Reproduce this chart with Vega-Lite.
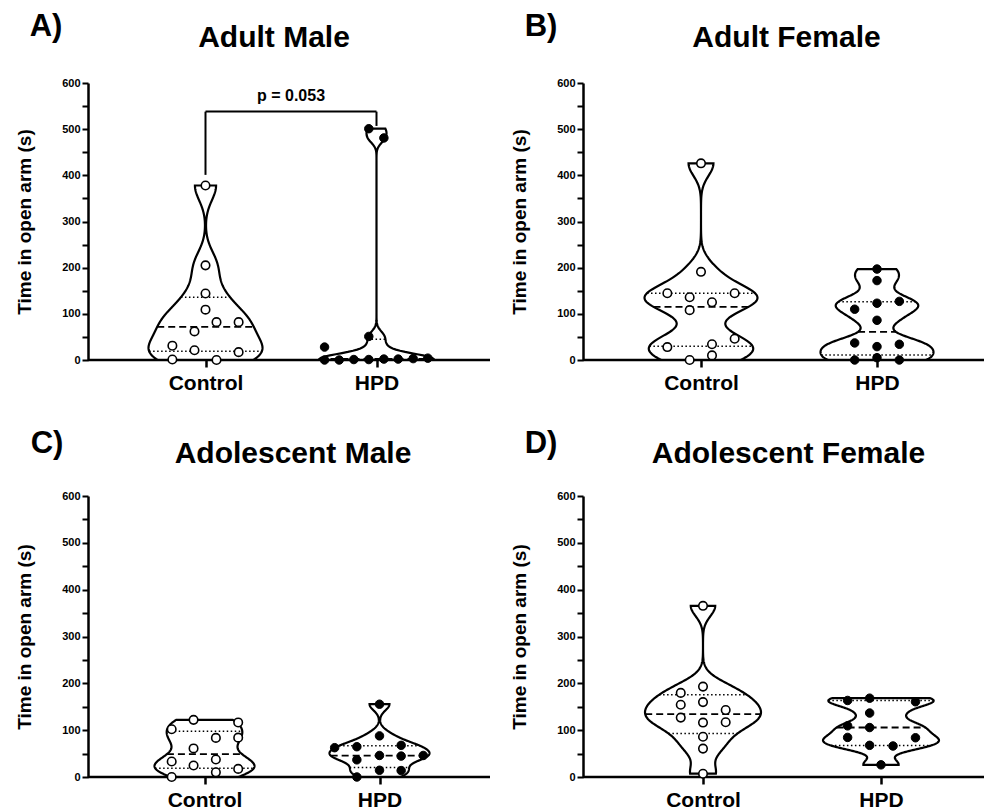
{
  "$schema": "https://vega.github.io/schema/vega-lite/v6.json",
  "padding": {"left": 15, "top": 11, "right": 0, "bottom": 0},
  "background": "white",
  "config": {
    "font": "Liberation Sans",
    "view": {"stroke": null},
    "axis": {"domainColor": "black", "tickColor": "black", "labelColor": "black", "titleColor": "black", "labelFontWeight": "bold", "titleFontWeight": "bold", "grid": false},
    "title": {"color": "black", "fontWeight": "bold", "font": "Liberation Sans"}
  },
  "datasets": {
    "points": [
      {"panel": "A", "group": "Control", "value": 378, "jitter": 0},
      {"panel": "A", "group": "Control", "value": 205, "jitter": 0},
      {"panel": "A", "group": "Control", "value": 144, "jitter": 0},
      {"panel": "A", "group": "Control", "value": 109, "jitter": 0},
      {"panel": "A", "group": "Control", "value": 82, "jitter": 1.03},
      {"panel": "A", "group": "Control", "value": 82, "jitter": 3.1},
      {"panel": "A", "group": "Control", "value": 62, "jitter": -1.03},
      {"panel": "A", "group": "Control", "value": 31, "jitter": -3.1},
      {"panel": "A", "group": "Control", "value": 21, "jitter": -1.03},
      {"panel": "A", "group": "Control", "value": 17, "jitter": 3.1},
      {"panel": "A", "group": "Control", "value": 1, "jitter": -3.1},
      {"panel": "A", "group": "Control", "value": 0, "jitter": 1.03},
      {"panel": "A", "group": "HPD", "value": 501, "jitter": -0.72},
      {"panel": "A", "group": "HPD", "value": 481, "jitter": 0.69},
      {"panel": "A", "group": "HPD", "value": 51, "jitter": -0.72},
      {"panel": "A", "group": "HPD", "value": 28, "jitter": -4.86},
      {"panel": "A", "group": "HPD", "value": 0, "jitter": -4.86},
      {"panel": "A", "group": "HPD", "value": 0, "jitter": -3.49},
      {"panel": "A", "group": "HPD", "value": 1, "jitter": -2.12},
      {"panel": "A", "group": "HPD", "value": 1, "jitter": -0.72},
      {"panel": "A", "group": "HPD", "value": 2, "jitter": 0.69},
      {"panel": "A", "group": "HPD", "value": 2, "jitter": 2.03},
      {"panel": "A", "group": "HPD", "value": 3, "jitter": 3.43},
      {"panel": "A", "group": "HPD", "value": 4, "jitter": 4.8},
      {"panel": "B", "group": "Control", "value": 426, "jitter": 0},
      {"panel": "B", "group": "Control", "value": 191, "jitter": 0},
      {"panel": "B", "group": "Control", "value": 144.5, "jitter": -3.06},
      {"panel": "B", "group": "Control", "value": 144.5, "jitter": 3.06},
      {"panel": "B", "group": "Control", "value": 136, "jitter": -1.03},
      {"panel": "B", "group": "Control", "value": 125, "jitter": 1.0},
      {"panel": "B", "group": "Control", "value": 108, "jitter": -1.03},
      {"panel": "B", "group": "Control", "value": 46, "jitter": 3.06},
      {"panel": "B", "group": "Control", "value": 34, "jitter": 1.0},
      {"panel": "B", "group": "Control", "value": 28, "jitter": -3.06},
      {"panel": "B", "group": "Control", "value": 10, "jitter": 1.0},
      {"panel": "B", "group": "Control", "value": 0, "jitter": -1.03},
      {"panel": "B", "group": "HPD", "value": 197, "jitter": 0},
      {"panel": "B", "group": "HPD", "value": 172, "jitter": 0},
      {"panel": "B", "group": "HPD", "value": 123, "jitter": 0},
      {"panel": "B", "group": "HPD", "value": 127, "jitter": 2.03},
      {"panel": "B", "group": "HPD", "value": 110, "jitter": -2.03},
      {"panel": "B", "group": "HPD", "value": 86, "jitter": 0},
      {"panel": "B", "group": "HPD", "value": 37, "jitter": -2.03},
      {"panel": "B", "group": "HPD", "value": 34, "jitter": 2.03},
      {"panel": "B", "group": "HPD", "value": 29, "jitter": 0},
      {"panel": "B", "group": "HPD", "value": 5, "jitter": 0},
      {"panel": "B", "group": "HPD", "value": 0, "jitter": -2.03},
      {"panel": "B", "group": "HPD", "value": 0, "jitter": 2.03},
      {"panel": "C", "group": "Control", "value": 122, "jitter": -1.0},
      {"panel": "C", "group": "Control", "value": 116.5, "jitter": 3.08},
      {"panel": "C", "group": "Control", "value": 102, "jitter": -3.0},
      {"panel": "C", "group": "Control", "value": 84, "jitter": 3.08},
      {"panel": "C", "group": "Control", "value": 83.5, "jitter": 1.04},
      {"panel": "C", "group": "Control", "value": 61, "jitter": -1.0},
      {"panel": "C", "group": "Control", "value": 37.4, "jitter": 1.04},
      {"panel": "C", "group": "Control", "value": 33, "jitter": -3.0},
      {"panel": "C", "group": "Control", "value": 24.5, "jitter": -1.0},
      {"panel": "C", "group": "Control", "value": 17.3, "jitter": 3.08},
      {"panel": "C", "group": "Control", "value": 10, "jitter": 1.04},
      {"panel": "C", "group": "Control", "value": 0, "jitter": -3.0},
      {"panel": "C", "group": "HPD", "value": 155.4, "jitter": 0},
      {"panel": "C", "group": "HPD", "value": 87.8, "jitter": 0},
      {"panel": "C", "group": "HPD", "value": 67.6, "jitter": 1.98},
      {"panel": "C", "group": "HPD", "value": 64.7, "jitter": -2.07},
      {"panel": "C", "group": "HPD", "value": 62.6, "jitter": -4.1},
      {"panel": "C", "group": "HPD", "value": 46, "jitter": 0},
      {"panel": "C", "group": "HPD", "value": 46, "jitter": 4.0},
      {"panel": "C", "group": "HPD", "value": 44.6, "jitter": 1.98},
      {"panel": "C", "group": "HPD", "value": 36.7, "jitter": -2.07},
      {"panel": "C", "group": "HPD", "value": 14.4, "jitter": 0},
      {"panel": "C", "group": "HPD", "value": 13.7, "jitter": 1.98},
      {"panel": "C", "group": "HPD", "value": 0, "jitter": -2.07},
      {"panel": "D", "group": "Control", "value": 365.5, "jitter": 0},
      {"panel": "D", "group": "Control", "value": 193, "jitter": 0},
      {"panel": "D", "group": "Control", "value": 179.6, "jitter": -2.0},
      {"panel": "D", "group": "Control", "value": 159.9, "jitter": 0},
      {"panel": "D", "group": "Control", "value": 154.2, "jitter": -2.0},
      {"panel": "D", "group": "Control", "value": 143, "jitter": 2.04},
      {"panel": "D", "group": "Control", "value": 126.8, "jitter": -2.0},
      {"panel": "D", "group": "Control", "value": 117, "jitter": 2.04},
      {"panel": "D", "group": "Control", "value": 116.2, "jitter": 0},
      {"panel": "D", "group": "Control", "value": 86, "jitter": 0},
      {"panel": "D", "group": "Control", "value": 60.6, "jitter": 0},
      {"panel": "D", "group": "Control", "value": 7, "jitter": 0},
      {"panel": "D", "group": "HPD", "value": 168.3, "jitter": -1.02},
      {"panel": "D", "group": "HPD", "value": 163.4, "jitter": -3.0},
      {"panel": "D", "group": "HPD", "value": 160.6, "jitter": 3.1},
      {"panel": "D", "group": "HPD", "value": 136.6, "jitter": -1.02},
      {"panel": "D", "group": "HPD", "value": 109.2, "jitter": -3.0},
      {"panel": "D", "group": "HPD", "value": 105.6, "jitter": -1.02},
      {"panel": "D", "group": "HPD", "value": 84.5, "jitter": -3.0},
      {"panel": "D", "group": "HPD", "value": 83.8, "jitter": 3.1},
      {"panel": "D", "group": "HPD", "value": 67.6, "jitter": -1.02},
      {"panel": "D", "group": "HPD", "value": 66.2, "jitter": 1.08},
      {"panel": "D", "group": "HPD", "value": 26, "jitter": 0}
    ],
    "quartA": [
      {"group": "Control", "q1": 18, "median": 72, "q3": 136},
      {"group": "HPD", "q1": 1, "median": 2.5, "q3": 45}
    ],
    "quartB": [
      {"group": "Control", "q1": 29.5, "median": 116, "q3": 144.5},
      {"group": "HPD", "q1": 11, "median": 61.5, "q3": 126}
    ],
    "quartC": [
      {"group": "Control", "q1": 18.9, "median": 49, "q3": 97.8},
      {"group": "HPD", "q1": 20.5, "median": 46, "q3": 67}
    ],
    "quartD": [
      {"group": "Control", "q1": 93.3, "median": 134.9, "q3": 174.7},
      {"group": "HPD", "q1": 67.6, "median": 105.6, "q3": 163}
    ]
  },
  "spacing": 34,
  "vconcat": [
    {
      "spacing": 18,
      "hconcat": [
        {
          "spacing": 0,
          "bounds": "flush",
          "hconcat": [
            {
              "width": 32, "height": 277,
              "title": {"text": "A)", "anchor": "start", "frame": "bounds", "fontSize": 31, "dx": 14, "offset": 34},
              "data": {"values": [{}]},
              "mark": {"type": "rule", "color": "black", "strokeWidth": 2.5},
              "encoding": {"y": {"datum": 0, "type": "quantitative", "scale": {"domain": [0, 600], "nice": false},
                "axis": {"title": "Time in open arm (s)", "titleFontSize": 19, "titlePadding": 27, "values": [0, 50, 100, 150, 200, 250, 300, 350, 400, 450, 500, 550, 600], "labelExpr": "datum.value % 100 === 0 ? datum.label : ''", "labelFontSize": 11, "labelPadding": 2, "labelOverlap": false, "tickSize": 6, "tickWidth": 2, "domainWidth": 2.5}}}
            },
            {
              "width": 171, "height": 277,
              "title": {"text": "Adult Male", "anchor": "middle", "frame": "group", "fontSize": 30, "dx": 68.5, "offset": 30},
              "resolve": {"scale": {"x": "independent"}},
              "layer": [
                {
                  "data": {"name": "points"},
                  "transform": [
                    {"filter": "datum.panel === 'A' && datum.group === 'Control'"},
                    {"density": "value", "groupby": ["group"], "bandwidth": 32, "steps": 200, "as": ["value", "density"]},
                    {"stack": "density", "groupby": ["value"], "offset": "center", "as": ["x0", "x1"]}
                  ],
                  "layer": [
                    {"mark": {"type": "area", "orient": "horizontal", "fill": "white", "stroke": "black", "strokeWidth": 2.2},
                     "encoding": {"y": {"field": "value", "type": "quantitative", "scale": {"domain": [0, 600], "nice": false}, "axis": null},
                                  "x": {"field": "x0", "type": "quantitative", "scale": {"zero": false, "nice": false, "padding": 28.5}, "axis": null},
                                  "x2": {"field": "x1"}}},
                    {"transform": [
                      {"lookup": "group", "from": {"data": {"name": "quartA"}, "key": "group", "fields": ["q1", "median", "q3"]}},
                      {"joinaggregate": [{"op": "min", "field": "value", "as": "lo"}, {"op": "max", "field": "value", "as": "hi"}]},
                      {"filter": "abs(datum.value - datum.median) <= (datum.hi - datum.lo) / 397"}],
                     "mark": {"type": "rule", "color": "black", "strokeWidth": 1.8, "strokeDash": [7, 4]},
                     "encoding": {"y": {"field": "value", "type": "quantitative", "axis": null}, "x": {"field": "x0", "type": "quantitative", "axis": null}, "x2": {"field": "x1"}}},
                    {"transform": [
                      {"lookup": "group", "from": {"data": {"name": "quartA"}, "key": "group", "fields": ["q1", "median", "q3"]}},
                      {"joinaggregate": [{"op": "min", "field": "value", "as": "lo"}, {"op": "max", "field": "value", "as": "hi"}]},
                      {"filter": "abs(datum.value - datum.q1) <= (datum.hi - datum.lo) / 397 || abs(datum.value - datum.q3) <= (datum.hi - datum.lo) / 397"}],
                     "mark": {"type": "rule", "color": "black", "strokeWidth": 1.5, "strokeDash": [1.5, 2.5]},
                     "encoding": {"y": {"field": "value", "type": "quantitative", "axis": null}, "x": {"field": "x0", "type": "quantitative", "axis": null}, "x2": {"field": "x1"}}}
                  ]
                },
                {
                  "data": {"values": [{}]},
                  "layer": [
                    {"mark": {"type": "rule", "color": "black", "strokeWidth": 2}, "encoding": {"x": {"datum": 0, "scale": {"domain": [-8, 8], "nice": false, "zero": false}, "axis": null}, "y": {"datum": 401, "axis": null}, "y2": {"datum": 538}}},
                    {"mark": {"type": "rule", "color": "black", "strokeWidth": 2}, "encoding": {"x": {"datum": 0, "axis": null}, "x2": {"datum": 8}, "y": {"datum": 538, "axis": null}}}
                  ]
                },
                {
                  "layer": [
                    {"data": {"values": [{}]}, "mark": {"type": "rule", "color": "black", "strokeWidth": 2.5}, "encoding": {"y": {"datum": 0, "axis": null}}},
                    {"data": {"name": "points"},
                     "transform": [{"filter": "datum.panel === 'A' && datum.group === 'Control'"}],
                     "mark": {"type": "point", "shape": "circle", "filled": true, "fill": "white", "stroke": "black", "strokeWidth": 1.6, "size": 72, "opacity": 1},
                     "encoding": {
                       "x": {"field": "jitter", "type": "quantitative", "scale": {"domain": [-8, 8], "nice": false, "zero": false}, "axis": {"values": [0], "labels": false, "domain": false, "tickSize": 7, "tickWidth": 2.5, "title": "Control", "titleFontSize": 21, "titlePadding": 4}},
                       "y": {"field": "value", "type": "quantitative", "scale": {"domain": [0, 600], "nice": false}, "axis": null}}}
                  ]
                }
              ]
            },
            {
              "width": 171, "height": 277,
              "resolve": {"scale": {"x": "independent"}},
              "layer": [
                {
                  "data": {"name": "points"},
                  "transform": [
                    {"filter": "datum.panel === 'A' && datum.group === 'HPD'"},
                    {"density": "value", "groupby": ["group"], "bandwidth": 12, "steps": 200, "as": ["value", "density"]},
                    {"stack": "density", "groupby": ["value"], "offset": "center", "as": ["x0", "x1"]}
                  ],
                  "layer": [
                    {"mark": {"type": "area", "orient": "horizontal", "fill": "white", "stroke": "black", "strokeWidth": 2.2},
                     "encoding": {"y": {"field": "value", "type": "quantitative", "scale": {"domain": [0, 600], "nice": false}, "axis": null},
                                  "x": {"field": "x0", "type": "quantitative", "scale": {"zero": false, "nice": false, "padding": 28.5}, "axis": null},
                                  "x2": {"field": "x1"}}},
                    {"transform": [
                      {"lookup": "group", "from": {"data": {"name": "quartA"}, "key": "group", "fields": ["q1", "median", "q3"]}},
                      {"joinaggregate": [{"op": "min", "field": "value", "as": "lo"}, {"op": "max", "field": "value", "as": "hi"}]},
                      {"filter": "abs(datum.value - datum.median) <= (datum.hi - datum.lo) / 397"}],
                     "mark": {"type": "rule", "color": "black", "strokeWidth": 1.8, "strokeDash": [7, 4]},
                     "encoding": {"y": {"field": "value", "type": "quantitative", "axis": null}, "x": {"field": "x0", "type": "quantitative", "axis": null}, "x2": {"field": "x1"}}},
                    {"transform": [
                      {"lookup": "group", "from": {"data": {"name": "quartA"}, "key": "group", "fields": ["q1", "median", "q3"]}},
                      {"joinaggregate": [{"op": "min", "field": "value", "as": "lo"}, {"op": "max", "field": "value", "as": "hi"}]},
                      {"filter": "abs(datum.value - datum.q1) <= (datum.hi - datum.lo) / 397 || abs(datum.value - datum.q3) <= (datum.hi - datum.lo) / 397"}],
                     "mark": {"type": "rule", "color": "black", "strokeWidth": 1.5, "strokeDash": [1.5, 2.5]},
                     "encoding": {"y": {"field": "value", "type": "quantitative", "axis": null}, "x": {"field": "x0", "type": "quantitative", "axis": null}, "x2": {"field": "x1"}}}
                  ]
                },
                {
                  "data": {"values": [{}]},
                  "layer": [
                    {"mark": {"type": "rule", "color": "black", "strokeWidth": 2}, "encoding": {"x": {"datum": 0, "scale": {"domain": [-8, 8], "nice": false, "zero": false}, "axis": null}, "y": {"datum": 507, "axis": null}, "y2": {"datum": 538}}},
                    {"mark": {"type": "rule", "color": "black", "strokeWidth": 2}, "encoding": {"x": {"datum": -8, "axis": null}, "x2": {"datum": 0}, "y": {"datum": 538, "axis": null}}},
                    {"mark": {"type": "text", "text": "p = 0.053", "fontSize": 16, "fontWeight": "bold", "align": "center", "baseline": "alphabetic", "color": "black"}, "encoding": {"x": {"datum": -8, "axis": null}, "y": {"datum": 562, "axis": null}}}
                  ]
                },
                {
                  "layer": [
                    {"data": {"values": [{}]}, "mark": {"type": "rule", "color": "black", "strokeWidth": 2.5}, "encoding": {"y": {"datum": 0, "axis": null}}},
                    {"data": {"name": "points"},
                     "transform": [{"filter": "datum.panel === 'A' && datum.group === 'HPD'"}],
                     "mark": {"type": "point", "shape": "circle", "filled": true, "fill": "black", "stroke": "black", "strokeWidth": 1, "size": 72, "opacity": 1},
                     "encoding": {
                       "x": {"field": "jitter", "type": "quantitative", "scale": {"domain": [-8, 8], "nice": false, "zero": false}, "axis": {"values": [0], "labels": false, "domain": false, "tickSize": 7, "tickWidth": 2.5, "title": "HPD", "titleFontSize": 21, "titlePadding": 4}},
                       "y": {"field": "value", "type": "quantitative", "scale": {"domain": [0, 600], "nice": false}, "axis": null}}}
                  ]
                }
              ]
            },
            {
              "width": 28, "height": 277,
              "data": {"values": [{}]},
              "mark": {"type": "rule", "color": "black", "strokeWidth": 2.5},
              "encoding": {"y": {"datum": 0, "type": "quantitative", "scale": {"domain": [0, 600], "nice": false}, "axis": null}}
            }
          ]
        },
        {
          "spacing": 0,
          "bounds": "flush",
          "hconcat": [
            {
              "width": 30, "height": 277,
              "title": {"text": "B)", "anchor": "start", "frame": "bounds", "fontSize": 31, "dx": 14, "offset": 34},
              "data": {"values": [{}]},
              "mark": {"type": "rule", "color": "black", "strokeWidth": 2.5},
              "encoding": {"y": {"datum": 0, "type": "quantitative", "scale": {"domain": [0, 600], "nice": false},
                "axis": {"title": "Time in open arm (s)", "titleFontSize": 19, "titlePadding": 27, "values": [0, 50, 100, 150, 200, 250, 300, 350, 400, 450, 500, 550, 600], "labelExpr": "datum.value % 100 === 0 ? datum.label : ''", "labelFontSize": 11, "labelPadding": 2, "labelOverlap": false, "tickSize": 6, "tickWidth": 2, "domainWidth": 2.5}}}
            },
            {
              "width": 176, "height": 277,
              "title": {"text": "Adult Female", "anchor": "middle", "frame": "group", "fontSize": 30, "dx": 85.5, "offset": 30},
              "resolve": {"scale": {"x": "independent"}},
              "layer": [
                {
                  "data": {"name": "points"},
                  "transform": [
                    {"filter": "datum.panel === 'B' && datum.group === 'Control'"},
                    {"density": "value", "groupby": ["group"], "bandwidth": 27, "steps": 200, "as": ["value", "density"]},
                    {"stack": "density", "groupby": ["value"], "offset": "center", "as": ["x0", "x1"]}
                  ],
                  "layer": [
                    {"mark": {"type": "area", "orient": "horizontal", "fill": "white", "stroke": "black", "strokeWidth": 2.2},
                     "encoding": {"y": {"field": "value", "type": "quantitative", "scale": {"domain": [0, 600], "nice": false}, "axis": null},
                                  "x": {"field": "x0", "type": "quantitative", "scale": {"zero": false, "nice": false, "padding": 31.5}, "axis": null},
                                  "x2": {"field": "x1"}}},
                    {"transform": [
                      {"lookup": "group", "from": {"data": {"name": "quartB"}, "key": "group", "fields": ["q1", "median", "q3"]}},
                      {"joinaggregate": [{"op": "min", "field": "value", "as": "lo"}, {"op": "max", "field": "value", "as": "hi"}]},
                      {"filter": "abs(datum.value - datum.median) <= (datum.hi - datum.lo) / 397"}],
                     "mark": {"type": "rule", "color": "black", "strokeWidth": 1.8, "strokeDash": [7, 4]},
                     "encoding": {"y": {"field": "value", "type": "quantitative", "axis": null}, "x": {"field": "x0", "type": "quantitative", "axis": null}, "x2": {"field": "x1"}}},
                    {"transform": [
                      {"lookup": "group", "from": {"data": {"name": "quartB"}, "key": "group", "fields": ["q1", "median", "q3"]}},
                      {"joinaggregate": [{"op": "min", "field": "value", "as": "lo"}, {"op": "max", "field": "value", "as": "hi"}]},
                      {"filter": "abs(datum.value - datum.q1) <= (datum.hi - datum.lo) / 397 || abs(datum.value - datum.q3) <= (datum.hi - datum.lo) / 397"}],
                     "mark": {"type": "rule", "color": "black", "strokeWidth": 1.5, "strokeDash": [1.5, 2.5]},
                     "encoding": {"y": {"field": "value", "type": "quantitative", "axis": null}, "x": {"field": "x0", "type": "quantitative", "axis": null}, "x2": {"field": "x1"}}}
                  ]
                },
                {
                  "layer": [
                    {"data": {"values": [{}]}, "mark": {"type": "rule", "color": "black", "strokeWidth": 2.5}, "encoding": {"y": {"datum": 0, "axis": null}}},
                    {"data": {"name": "points"},
                     "transform": [{"filter": "datum.panel === 'B' && datum.group === 'Control'"}],
                     "mark": {"type": "point", "shape": "circle", "filled": true, "fill": "white", "stroke": "black", "strokeWidth": 1.6, "size": 72, "opacity": 1},
                     "encoding": {
                       "x": {"field": "jitter", "type": "quantitative", "scale": {"domain": [-8, 8], "nice": false, "zero": false}, "axis": {"values": [0], "labels": false, "domain": false, "tickSize": 7, "tickWidth": 2.5, "title": "Control", "titleFontSize": 21, "titlePadding": 4}},
                       "y": {"field": "value", "type": "quantitative", "scale": {"domain": [0, 600], "nice": false}, "axis": null}}}
                  ]
                }
              ]
            },
            {
              "width": 176, "height": 277,
              "resolve": {"scale": {"x": "independent"}},
              "layer": [
                {
                  "data": {"name": "points"},
                  "transform": [
                    {"filter": "datum.panel === 'B' && datum.group === 'HPD'"},
                    {"density": "value", "groupby": ["group"], "bandwidth": 18, "steps": 200, "as": ["value", "density"]},
                    {"stack": "density", "groupby": ["value"], "offset": "center", "as": ["x0", "x1"]}
                  ],
                  "layer": [
                    {"mark": {"type": "area", "orient": "horizontal", "fill": "white", "stroke": "black", "strokeWidth": 2.2},
                     "encoding": {"y": {"field": "value", "type": "quantitative", "scale": {"domain": [0, 600], "nice": false}, "axis": null},
                                  "x": {"field": "x0", "type": "quantitative", "scale": {"zero": false, "nice": false, "padding": 31.5}, "axis": null},
                                  "x2": {"field": "x1"}}},
                    {"transform": [
                      {"lookup": "group", "from": {"data": {"name": "quartB"}, "key": "group", "fields": ["q1", "median", "q3"]}},
                      {"joinaggregate": [{"op": "min", "field": "value", "as": "lo"}, {"op": "max", "field": "value", "as": "hi"}]},
                      {"filter": "abs(datum.value - datum.median) <= (datum.hi - datum.lo) / 397"}],
                     "mark": {"type": "rule", "color": "black", "strokeWidth": 1.8, "strokeDash": [7, 4]},
                     "encoding": {"y": {"field": "value", "type": "quantitative", "axis": null}, "x": {"field": "x0", "type": "quantitative", "axis": null}, "x2": {"field": "x1"}}},
                    {"transform": [
                      {"lookup": "group", "from": {"data": {"name": "quartB"}, "key": "group", "fields": ["q1", "median", "q3"]}},
                      {"joinaggregate": [{"op": "min", "field": "value", "as": "lo"}, {"op": "max", "field": "value", "as": "hi"}]},
                      {"filter": "abs(datum.value - datum.q1) <= (datum.hi - datum.lo) / 397 || abs(datum.value - datum.q3) <= (datum.hi - datum.lo) / 397"}],
                     "mark": {"type": "rule", "color": "black", "strokeWidth": 1.5, "strokeDash": [1.5, 2.5]},
                     "encoding": {"y": {"field": "value", "type": "quantitative", "axis": null}, "x": {"field": "x0", "type": "quantitative", "axis": null}, "x2": {"field": "x1"}}}
                  ]
                },
                {
                  "layer": [
                    {"data": {"values": [{}]}, "mark": {"type": "rule", "color": "black", "strokeWidth": 2.5}, "encoding": {"y": {"datum": 0, "axis": null}}},
                    {"data": {"name": "points"},
                     "transform": [{"filter": "datum.panel === 'B' && datum.group === 'HPD'"}],
                     "mark": {"type": "point", "shape": "circle", "filled": true, "fill": "black", "stroke": "black", "strokeWidth": 1, "size": 72, "opacity": 1},
                     "encoding": {
                       "x": {"field": "jitter", "type": "quantitative", "scale": {"domain": [-8, 8], "nice": false, "zero": false}, "axis": {"values": [0], "labels": false, "domain": false, "tickSize": 7, "tickWidth": 2.5, "title": "HPD", "titleFontSize": 21, "titlePadding": 4}},
                       "y": {"field": "value", "type": "quantitative", "scale": {"domain": [0, 600], "nice": false}, "axis": null}}}
                  ]
                }
              ]
            },
            {
              "width": 21, "height": 277,
              "data": {"values": [{}]},
              "mark": {"type": "rule", "color": "black", "strokeWidth": 2.5},
              "encoding": {"y": {"datum": 0, "type": "quantitative", "scale": {"domain": [0, 600], "nice": false}, "axis": null}}
            }
          ]
        }
      ]
    },
    {
      "spacing": 18,
      "hconcat": [
        {
          "spacing": 0,
          "bounds": "flush",
          "hconcat": [
            {
              "width": 29, "height": 281,
              "title": {"text": "C)", "anchor": "start", "frame": "bounds", "fontSize": 31, "dx": 15, "offset": 30},
              "data": {"values": [{}]},
              "mark": {"type": "rule", "color": "black", "strokeWidth": 2.5},
              "encoding": {"y": {"datum": 0, "type": "quantitative", "scale": {"domain": [0, 600], "nice": false},
                "axis": {"title": "Time in open arm (s)", "titleFontSize": 19, "titlePadding": 27, "values": [0, 50, 100, 150, 200, 250, 300, 350, 400, 450, 500, 550, 600], "labelExpr": "datum.value % 100 === 0 ? datum.label : ''", "labelFontSize": 11, "labelPadding": 2, "labelOverlap": false, "tickSize": 6, "tickWidth": 2, "domainWidth": 2.5}}}
            },
            {
              "width": 175, "height": 281,
              "title": {"text": "Adolescent Male", "anchor": "middle", "frame": "group", "fontSize": 30, "dx": 88.5, "offset": 27},
              "resolve": {"scale": {"x": "independent"}},
              "layer": [
                {
                  "data": {"name": "points"},
                  "transform": [
                    {"filter": "datum.panel === 'C' && datum.group === 'Control'"},
                    {"density": "value", "groupby": ["group"], "bandwidth": 20, "steps": 200, "as": ["value", "density"]},
                    {"stack": "density", "groupby": ["value"], "offset": "center", "as": ["x0", "x1"]}
                  ],
                  "layer": [
                    {"mark": {"type": "area", "orient": "horizontal", "fill": "white", "stroke": "black", "strokeWidth": 2.2},
                     "encoding": {"y": {"field": "value", "type": "quantitative", "scale": {"domain": [0, 600], "nice": false}, "axis": null},
                                  "x": {"field": "x0", "type": "quantitative", "scale": {"zero": false, "nice": false, "padding": 37.5}, "axis": null},
                                  "x2": {"field": "x1"}}},
                    {"transform": [
                      {"lookup": "group", "from": {"data": {"name": "quartC"}, "key": "group", "fields": ["q1", "median", "q3"]}},
                      {"joinaggregate": [{"op": "min", "field": "value", "as": "lo"}, {"op": "max", "field": "value", "as": "hi"}]},
                      {"filter": "abs(datum.value - datum.median) <= (datum.hi - datum.lo) / 397"}],
                     "mark": {"type": "rule", "color": "black", "strokeWidth": 1.8, "strokeDash": [7, 4]},
                     "encoding": {"y": {"field": "value", "type": "quantitative", "axis": null}, "x": {"field": "x0", "type": "quantitative", "axis": null}, "x2": {"field": "x1"}}},
                    {"transform": [
                      {"lookup": "group", "from": {"data": {"name": "quartC"}, "key": "group", "fields": ["q1", "median", "q3"]}},
                      {"joinaggregate": [{"op": "min", "field": "value", "as": "lo"}, {"op": "max", "field": "value", "as": "hi"}]},
                      {"filter": "abs(datum.value - datum.q1) <= (datum.hi - datum.lo) / 397 || abs(datum.value - datum.q3) <= (datum.hi - datum.lo) / 397"}],
                     "mark": {"type": "rule", "color": "black", "strokeWidth": 1.5, "strokeDash": [1.5, 2.5]},
                     "encoding": {"y": {"field": "value", "type": "quantitative", "axis": null}, "x": {"field": "x0", "type": "quantitative", "axis": null}, "x2": {"field": "x1"}}}
                  ]
                },
                {
                  "layer": [
                    {"data": {"values": [{}]}, "mark": {"type": "rule", "color": "black", "strokeWidth": 2.5}, "encoding": {"y": {"datum": 0, "axis": null}}},
                    {"data": {"name": "points"},
                     "transform": [{"filter": "datum.panel === 'C' && datum.group === 'Control'"}],
                     "mark": {"type": "point", "shape": "circle", "filled": true, "fill": "white", "stroke": "black", "strokeWidth": 1.6, "size": 72, "opacity": 1},
                     "encoding": {
                       "x": {"field": "jitter", "type": "quantitative", "scale": {"domain": [-8, 8], "nice": false, "zero": false}, "axis": {"values": [0], "labels": false, "domain": false, "tickSize": 7, "tickWidth": 2.5, "title": "Control", "titleFontSize": 21, "titlePadding": 4}},
                       "y": {"field": "value", "type": "quantitative", "scale": {"domain": [0, 600], "nice": false}, "axis": null}}}
                  ]
                }
              ]
            },
            {
              "width": 175, "height": 281,
              "resolve": {"scale": {"x": "independent"}},
              "layer": [
                {
                  "data": {"name": "points"},
                  "transform": [
                    {"filter": "datum.panel === 'C' && datum.group === 'HPD'"},
                    {"density": "value", "groupby": ["group"], "bandwidth": 13, "steps": 200, "as": ["value", "density"]},
                    {"stack": "density", "groupby": ["value"], "offset": "center", "as": ["x0", "x1"]}
                  ],
                  "layer": [
                    {"mark": {"type": "area", "orient": "horizontal", "fill": "white", "stroke": "black", "strokeWidth": 2.2},
                     "encoding": {"y": {"field": "value", "type": "quantitative", "scale": {"domain": [0, 600], "nice": false}, "axis": null},
                                  "x": {"field": "x0", "type": "quantitative", "scale": {"zero": false, "nice": false, "padding": 37.5}, "axis": null},
                                  "x2": {"field": "x1"}}},
                    {"transform": [
                      {"lookup": "group", "from": {"data": {"name": "quartC"}, "key": "group", "fields": ["q1", "median", "q3"]}},
                      {"joinaggregate": [{"op": "min", "field": "value", "as": "lo"}, {"op": "max", "field": "value", "as": "hi"}]},
                      {"filter": "abs(datum.value - datum.median) <= (datum.hi - datum.lo) / 397"}],
                     "mark": {"type": "rule", "color": "black", "strokeWidth": 1.8, "strokeDash": [7, 4]},
                     "encoding": {"y": {"field": "value", "type": "quantitative", "axis": null}, "x": {"field": "x0", "type": "quantitative", "axis": null}, "x2": {"field": "x1"}}},
                    {"transform": [
                      {"lookup": "group", "from": {"data": {"name": "quartC"}, "key": "group", "fields": ["q1", "median", "q3"]}},
                      {"joinaggregate": [{"op": "min", "field": "value", "as": "lo"}, {"op": "max", "field": "value", "as": "hi"}]},
                      {"filter": "abs(datum.value - datum.q1) <= (datum.hi - datum.lo) / 397 || abs(datum.value - datum.q3) <= (datum.hi - datum.lo) / 397"}],
                     "mark": {"type": "rule", "color": "black", "strokeWidth": 1.5, "strokeDash": [1.5, 2.5]},
                     "encoding": {"y": {"field": "value", "type": "quantitative", "axis": null}, "x": {"field": "x0", "type": "quantitative", "axis": null}, "x2": {"field": "x1"}}}
                  ]
                },
                {
                  "layer": [
                    {"data": {"values": [{}]}, "mark": {"type": "rule", "color": "black", "strokeWidth": 2.5}, "encoding": {"y": {"datum": 0, "axis": null}}},
                    {"data": {"name": "points"},
                     "transform": [{"filter": "datum.panel === 'C' && datum.group === 'HPD'"}],
                     "mark": {"type": "point", "shape": "circle", "filled": true, "fill": "black", "stroke": "black", "strokeWidth": 1, "size": 72, "opacity": 1},
                     "encoding": {
                       "x": {"field": "jitter", "type": "quantitative", "scale": {"domain": [-8, 8], "nice": false, "zero": false}, "axis": {"values": [0], "labels": false, "domain": false, "tickSize": 7, "tickWidth": 2.5, "title": "HPD", "titleFontSize": 21, "titlePadding": 4}},
                       "y": {"field": "value", "type": "quantitative", "scale": {"domain": [0, 600], "nice": false}, "axis": null}}}
                  ]
                }
              ]
            },
            {
              "width": 23, "height": 281,
              "data": {"values": [{}]},
              "mark": {"type": "rule", "color": "black", "strokeWidth": 2.5},
              "encoding": {"y": {"datum": 0, "type": "quantitative", "scale": {"domain": [0, 600], "nice": false}, "axis": null}}
            }
          ]
        },
        {
          "spacing": 0,
          "bounds": "flush",
          "hconcat": [
            {
              "width": 31, "height": 281,
              "title": {"text": "D)", "anchor": "start", "frame": "bounds", "fontSize": 31, "dx": 14, "offset": 30},
              "data": {"values": [{}]},
              "mark": {"type": "rule", "color": "black", "strokeWidth": 2.5},
              "encoding": {"y": {"datum": 0, "type": "quantitative", "scale": {"domain": [0, 600], "nice": false},
                "axis": {"title": "Time in open arm (s)", "titleFontSize": 19, "titlePadding": 27, "values": [0, 50, 100, 150, 200, 250, 300, 350, 400, 450, 500, 550, 600], "labelExpr": "datum.value % 100 === 0 ? datum.label : ''", "labelFontSize": 11, "labelPadding": 2, "labelOverlap": false, "tickSize": 6, "tickWidth": 2, "domainWidth": 2.5}}}
            },
            {
              "width": 178, "height": 281,
              "title": {"text": "Adolescent Female", "anchor": "middle", "frame": "group", "fontSize": 30, "dx": 85.5, "offset": 27},
              "resolve": {"scale": {"x": "independent"}},
              "layer": [
                {
                  "data": {"name": "points"},
                  "transform": [
                    {"filter": "datum.panel === 'D' && datum.group === 'Control'"},
                    {"density": "value", "groupby": ["group"], "bandwidth": 22, "steps": 200, "as": ["value", "density"]},
                    {"stack": "density", "groupby": ["value"], "offset": "center", "as": ["x0", "x1"]}
                  ],
                  "layer": [
                    {"mark": {"type": "area", "orient": "horizontal", "fill": "white", "stroke": "black", "strokeWidth": 2.2},
                     "encoding": {"y": {"field": "value", "type": "quantitative", "scale": {"domain": [0, 600], "nice": false}, "axis": null},
                                  "x": {"field": "x0", "type": "quantitative", "scale": {"zero": false, "nice": false, "padding": 31}, "axis": null},
                                  "x2": {"field": "x1"}}},
                    {"transform": [
                      {"lookup": "group", "from": {"data": {"name": "quartD"}, "key": "group", "fields": ["q1", "median", "q3"]}},
                      {"joinaggregate": [{"op": "min", "field": "value", "as": "lo"}, {"op": "max", "field": "value", "as": "hi"}]},
                      {"filter": "abs(datum.value - datum.median) <= (datum.hi - datum.lo) / 397"}],
                     "mark": {"type": "rule", "color": "black", "strokeWidth": 1.8, "strokeDash": [7, 4]},
                     "encoding": {"y": {"field": "value", "type": "quantitative", "axis": null}, "x": {"field": "x0", "type": "quantitative", "axis": null}, "x2": {"field": "x1"}}},
                    {"transform": [
                      {"lookup": "group", "from": {"data": {"name": "quartD"}, "key": "group", "fields": ["q1", "median", "q3"]}},
                      {"joinaggregate": [{"op": "min", "field": "value", "as": "lo"}, {"op": "max", "field": "value", "as": "hi"}]},
                      {"filter": "abs(datum.value - datum.q1) <= (datum.hi - datum.lo) / 397 || abs(datum.value - datum.q3) <= (datum.hi - datum.lo) / 397"}],
                     "mark": {"type": "rule", "color": "black", "strokeWidth": 1.5, "strokeDash": [1.5, 2.5]},
                     "encoding": {"y": {"field": "value", "type": "quantitative", "axis": null}, "x": {"field": "x0", "type": "quantitative", "axis": null}, "x2": {"field": "x1"}}}
                  ]
                },
                {
                  "layer": [
                    {"data": {"values": [{}]}, "mark": {"type": "rule", "color": "black", "strokeWidth": 2.5}, "encoding": {"y": {"datum": 0, "axis": null}}},
                    {"data": {"name": "points"},
                     "transform": [{"filter": "datum.panel === 'D' && datum.group === 'Control'"}],
                     "mark": {"type": "point", "shape": "circle", "filled": true, "fill": "white", "stroke": "black", "strokeWidth": 1.6, "size": 72, "opacity": 1},
                     "encoding": {
                       "x": {"field": "jitter", "type": "quantitative", "scale": {"domain": [-8, 8], "nice": false, "zero": false}, "axis": {"values": [0], "labels": false, "domain": false, "tickSize": 7, "tickWidth": 2.5, "title": "Control", "titleFontSize": 21, "titlePadding": 4}},
                       "y": {"field": "value", "type": "quantitative", "scale": {"domain": [0, 600], "nice": false}, "axis": null}}}
                  ]
                }
              ]
            },
            {
              "width": 178, "height": 281,
              "resolve": {"scale": {"x": "independent"}},
              "layer": [
                {
                  "data": {"name": "points"},
                  "transform": [
                    {"filter": "datum.panel === 'D' && datum.group === 'HPD'"},
                    {"density": "value", "groupby": ["group"], "bandwidth": 13, "steps": 200, "as": ["value", "density"]},
                    {"stack": "density", "groupby": ["value"], "offset": "center", "as": ["x0", "x1"]}
                  ],
                  "layer": [
                    {"mark": {"type": "area", "orient": "horizontal", "fill": "white", "stroke": "black", "strokeWidth": 2.2},
                     "encoding": {"y": {"field": "value", "type": "quantitative", "scale": {"domain": [0, 600], "nice": false}, "axis": null},
                                  "x": {"field": "x0", "type": "quantitative", "scale": {"zero": false, "nice": false, "padding": 31}, "axis": null},
                                  "x2": {"field": "x1"}}},
                    {"transform": [
                      {"lookup": "group", "from": {"data": {"name": "quartD"}, "key": "group", "fields": ["q1", "median", "q3"]}},
                      {"joinaggregate": [{"op": "min", "field": "value", "as": "lo"}, {"op": "max", "field": "value", "as": "hi"}]},
                      {"filter": "abs(datum.value - datum.median) <= (datum.hi - datum.lo) / 397"}],
                     "mark": {"type": "rule", "color": "black", "strokeWidth": 1.8, "strokeDash": [7, 4]},
                     "encoding": {"y": {"field": "value", "type": "quantitative", "axis": null}, "x": {"field": "x0", "type": "quantitative", "axis": null}, "x2": {"field": "x1"}}},
                    {"transform": [
                      {"lookup": "group", "from": {"data": {"name": "quartD"}, "key": "group", "fields": ["q1", "median", "q3"]}},
                      {"joinaggregate": [{"op": "min", "field": "value", "as": "lo"}, {"op": "max", "field": "value", "as": "hi"}]},
                      {"filter": "abs(datum.value - datum.q1) <= (datum.hi - datum.lo) / 397 || abs(datum.value - datum.q3) <= (datum.hi - datum.lo) / 397"}],
                     "mark": {"type": "rule", "color": "black", "strokeWidth": 1.5, "strokeDash": [1.5, 2.5]},
                     "encoding": {"y": {"field": "value", "type": "quantitative", "axis": null}, "x": {"field": "x0", "type": "quantitative", "axis": null}, "x2": {"field": "x1"}}}
                  ]
                },
                {
                  "layer": [
                    {"data": {"values": [{}]}, "mark": {"type": "rule", "color": "black", "strokeWidth": 2.5}, "encoding": {"y": {"datum": 0, "axis": null}}},
                    {"data": {"name": "points"},
                     "transform": [{"filter": "datum.panel === 'D' && datum.group === 'HPD'"}],
                     "mark": {"type": "point", "shape": "circle", "filled": true, "fill": "black", "stroke": "black", "strokeWidth": 1, "size": 72, "opacity": 1},
                     "encoding": {
                       "x": {"field": "jitter", "type": "quantitative", "scale": {"domain": [-8, 8], "nice": false, "zero": false}, "axis": {"values": [0], "labels": false, "domain": false, "tickSize": 7, "tickWidth": 2.5, "title": "HPD", "titleFontSize": 21, "titlePadding": 4}},
                       "y": {"field": "value", "type": "quantitative", "scale": {"domain": [0, 600], "nice": false}, "axis": null}}}
                  ]
                }
              ]
            },
            {
              "width": 16, "height": 281,
              "data": {"values": [{}]},
              "mark": {"type": "rule", "color": "black", "strokeWidth": 2.5},
              "encoding": {"y": {"datum": 0, "type": "quantitative", "scale": {"domain": [0, 600], "nice": false}, "axis": null}}
            }
          ]
        }
      ]
    }
  ]
}
